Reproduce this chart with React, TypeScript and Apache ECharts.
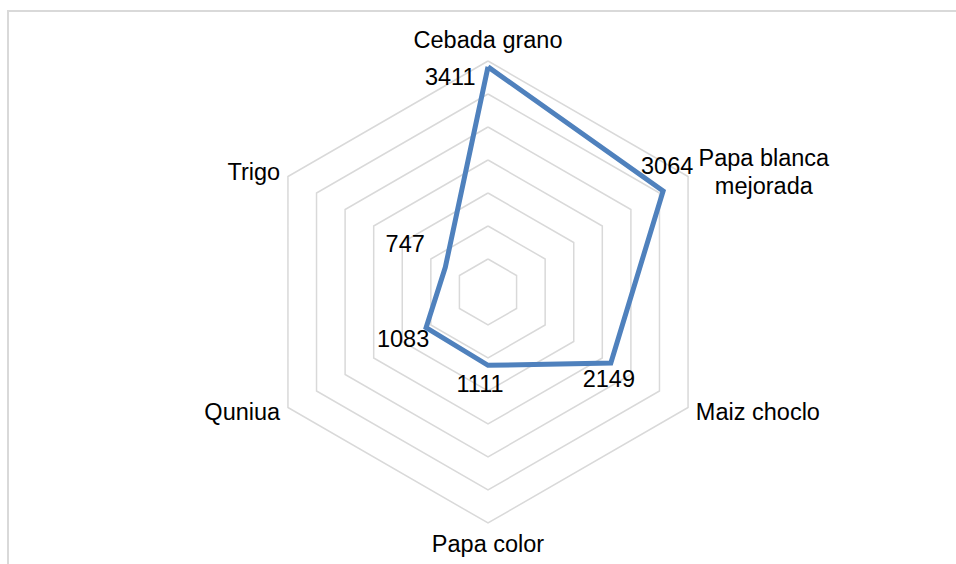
import React, { useEffect, useRef } from "react";
import * as echarts from "echarts";

// Data (reference order, clockwise from top)
const CATEGORIES = ["Cebada grano", "Papa blanca\nmejorada", "Maiz choclo", "Papa color", "Quniua", "Trigo"];
const VALUES = [3411, 3064, 2149, 1111, 1083, 747];
const AXIS_MAX = 3500;
const SPLIT_COUNT = 7;

// Label styling per category (reference order)
const LABEL_STYLE: { position: string; distance: number; offset: [number, number] }[] = [
  { position: "left", distance: 12, offset: [0, 10] },
  { position: "top", distance: 12, offset: [4, 0] },
  { position: "bottom", distance: 4, offset: [-2, 0] },
  { position: "bottom", distance: 6, offset: [-8, 0] },
  { position: "bottom", distance: 0, offset: [-23, -1] },
  { position: "left", distance: 20, offset: [0, -23] },
];

const FONT = "'Liberation Sans', Arial, sans-serif";
const FS = 23.5;

export default function App() {
  const ref = useRef<HTMLDivElement>(null);
  useEffect(() => {
    if (!ref.current) return;
    const chart = echarts.init(ref.current, undefined, { renderer: "svg" });
    // ECharts lays indicators counter-clockwise; reorder to draw clockwise
    const order = [0, ...CATEGORIES.map((_, i) => i).slice(1).reverse()];
    const indicator = order.map((i) => ({ name: CATEGORIES[i], min: 0, max: AXIS_MAX }));
    const values = order.map((i) => VALUES[i]);

    const labelSeries = VALUES.map((v, i) => ({
      type: "radar",
      z: 5,
      data: [{ value: values }],
      symbol: "circle",
      symbolSize: 1,
      itemStyle: { color: "rgba(0,0,0,0)" },
      lineStyle: { width: 0, opacity: 0 },
      label: {
        show: true,
        position: LABEL_STYLE[i].position,
        distance: LABEL_STYLE[i].distance,
        offset: LABEL_STYLE[i].offset,
        color: "#000",
        fontSize: FS,
        fontFamily: FONT,
        formatter: (p: any) => (p.value === v ? String(v) : ""),
      },
      silent: true,
    }));

    chart.setOption({
      animation: false,
      graphic: [
        {
          type: "rect",
          shape: { x: 8, y: 11, width: 1000, height: 600 },
          style: { fill: "none", stroke: "#d9d9d9", lineWidth: 2 },
          z: -1,
        },
      ],
      radar: {
        center: [488, 292],
        radius: 231,
        startAngle: 90,
        shape: "polygon",
        splitNumber: SPLIT_COUNT,
        nameGap: 9,
        indicator,
        axisName: {
          color: "#000",
          fontSize: FS,
          fontFamily: FONT,
          formatter: (name: string) =>
            name.includes("\n")
              ? name
                  .split("\n")
                  .map((s) => `{c|${s}}`)
                  .join("\n")
              : name,
          rich: {
            c: { width: 136, align: "center", fontSize: FS, fontFamily: FONT, color: "#000", lineHeight: 28 },
          },
        },
        axisLine: { show: false },
        axisTick: { show: false },
        axisLabel: { show: false },
        splitArea: { show: false },
        splitLine: { lineStyle: { color: "#d9d9d9", width: 1.5 } },
      },
      series: [
        {
          type: "radar",
          z: 3,
          symbol: "none",
          data: [{ value: values }],
          lineStyle: { color: "#4f81bd", width: 5, join: "miter" },
          silent: true,
        },
        ...labelSeries,
      ],
    });
    return () => chart.dispose();
  }, []);
  return <div ref={ref} style={{ position: "absolute", left: 0, top: 0, width: 956, height: 564 }} />;
}
